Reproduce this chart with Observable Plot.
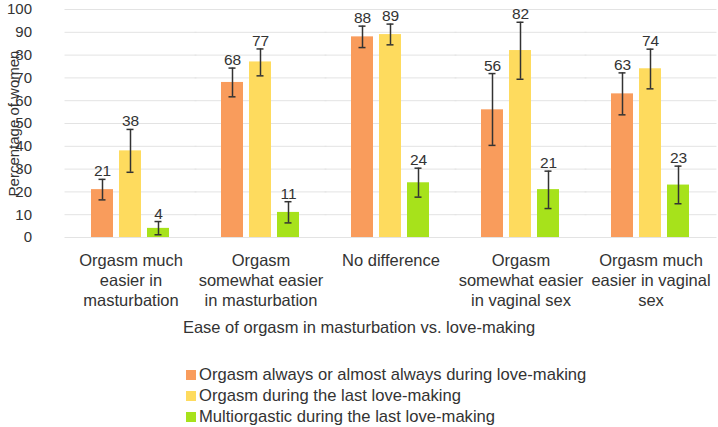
<!DOCTYPE html>
<html>
<head>
<meta charset="utf-8">
<script src="https://cdn.jsdelivr.net/npm/d3@7"></script>
<script src="https://cdn.jsdelivr.net/npm/@observablehq/plot@0.6"></script>
<style>
  body { margin: 0; background: #fff; font-family: "Liberation Sans", Arial, sans-serif; color: #333; overflow: hidden; }
  #wrap { width: 718px; }
  .xtitle { width: 718px; text-align: center; height: 28px; line-height: 28px; font-size: 16.5px; color: #333; }
  .legend { margin-top: 23px; padding-left: 186px; font-size: 16.6px; color: #333; }
  .legend div { height: 21.3px; line-height: 18px; display: flex; align-items: center; }
  .legend span.sw { display: inline-block; width: 10px; height: 10px; margin-right: 3px; }
</style>
</head>
<body>
<div id="wrap"></div>
<script>
const categories = [
  "Orgasm much easier in masturbation",
  "Orgasm somewhat easier in masturbation",
  "No difference",
  "Orgasm somewhat easier in vaginal sex",
  "Orgasm much easier in vaginal sex"
];
const categoryLabels = [
  "Orgasm much\neasier in\nmasturbation",
  "Orgasm\nsomewhat easier\nin masturbation",
  "No difference",
  "Orgasm\nsomewhat easier\nin vaginal sex",
  "Orgasm much\neasier in vaginal\nsex"
];
const seriesNames = [
  "Orgasm always or almost always during love-making",
  "Orgasm during the last love-making",
  "Multiorgastic during the last love-making"
];
const seriesColors = ["#f99c5c", "#fedb5e", "#a7e21b"];
const yLabel = "Percentage of women";

const alwaysValues = [21, 68, 88, 56, 63];
const alwaysLow    = [16.5, 61.7, 83.3, 40.4, 53.8];
const alwaysHigh   = [25.5, 74.3, 92.7, 71.9, 72.2];

const lastValues = [38, 77, 89, 82, 74];
const lastLow    = [28.6, 70.9, 84.5, 69.4, 65.2];
const lastHigh   = [47.4, 82.7, 93.6, 94.4, 82.6];

const multiValues = [4, 11, 24, 21, 23];
const multiLow    = [1.2, 6.4, 17.7, 12.7, 14.8];
const multiHigh   = [7, 15.7, 30.4, 29.1, 31.3];

const yTicks = [0, 10, 20, 30, 40, 50, 60, 70, 80, 90, 100];

const seriesData = [
  [alwaysValues, alwaysLow, alwaysHigh],
  [lastValues, lastLow, lastHigh],
  [multiValues, multiLow, multiHigh]
];
const rows = [];
categories.forEach((c, i) => {
  seriesNames.forEach((s, j) => {
    const [v, lo, hi] = seriesData[j];
    rows.push({category: c, series: s, value: v[i], lo: lo[i], hi: hi[i]});
  });
});
const labelRows = categories.map((c, i) => ({category: c, label: categoryLabels[i]}));

const chart = Plot.plot({
  width: 718,
  height: 313,
  marginLeft: 88,
  marginRight: 25,
  marginTop: 9,
  marginBottom: 76,
  style: {fontFamily: "Liberation Sans, Arial, sans-serif", fontSize: "15px", color: "#333"},
  fx: {domain: categories, paddingInner: 0.38, paddingOuter: 0, axis: null, label: null},
  x: {domain: seriesNames, paddingInner: 0.2, paddingOuter: 0, axis: null},
  y: {domain: [0, 100], label: null},
  color: {domain: seriesNames, range: seriesColors},
  marks: [
    Plot.ruleY(yTicks, {stroke: "#e3e3e3", strokeWidth: 1, insetLeft: -25.5, insetRight: -25.5}),
    Plot.axisY({ticks: yTicks, tickSize: 0, tickPadding: 53, dx: -5.5, fontSize: 15, label: null}),
    Plot.text([{category: categories[0], label: yLabel}], {fx: "category", text: "label", frameAnchor: "left", textAnchor: "middle", lineAnchor: "middle", rotate: -90, dx: -76, fontSize: 15, fill: "#333"}),
    Plot.barY(rows, {fx: "category", x: "series", y: "value", fill: "series"}),
    Plot.ruleX(rows, {fx: "category", x: "series", y1: "lo", y2: "hi", stroke: "#333", strokeWidth: 1.5}),
    Plot.tickY(rows, {fx: "category", x: "series", y: "lo", stroke: "#333", strokeWidth: 1.5, insetLeft: 7.5, insetRight: 7.5}),
    Plot.tickY(rows, {fx: "category", x: "series", y: "hi", stroke: "#333", strokeWidth: 1.5, insetLeft: 7.5, insetRight: 7.5}),
    Plot.text(rows, {fx: "category", x: "series", y: "hi", text: d => String(d.value), lineAnchor: "bottom", dy: -3, fontSize: 15.5, fill: "#333"}),
    Plot.text(labelRows, {fx: "category", text: "label", frameAnchor: "bottom", lineAnchor: "top", dy: 14, lineHeight: 1.23, fontSize: 16.5, fill: "#333"})
  ]
});
const wrap = document.getElementById("wrap");
wrap.appendChild(chart);

const xt = document.createElement("div");
xt.className = "xtitle";
xt.textContent = "Ease of orgasm in masturbation vs. love-making";
wrap.appendChild(xt);

const lg = document.createElement("div");
lg.className = "legend";
seriesNames.forEach((s, j) => {
  const row = document.createElement("div");
  const sw = document.createElement("span");
  sw.className = "sw";
  sw.style.background = seriesColors[j];
  row.appendChild(sw);
  row.appendChild(document.createTextNode(s));
  lg.appendChild(row);
});
wrap.appendChild(lg);
</script>
</body>
</html>
